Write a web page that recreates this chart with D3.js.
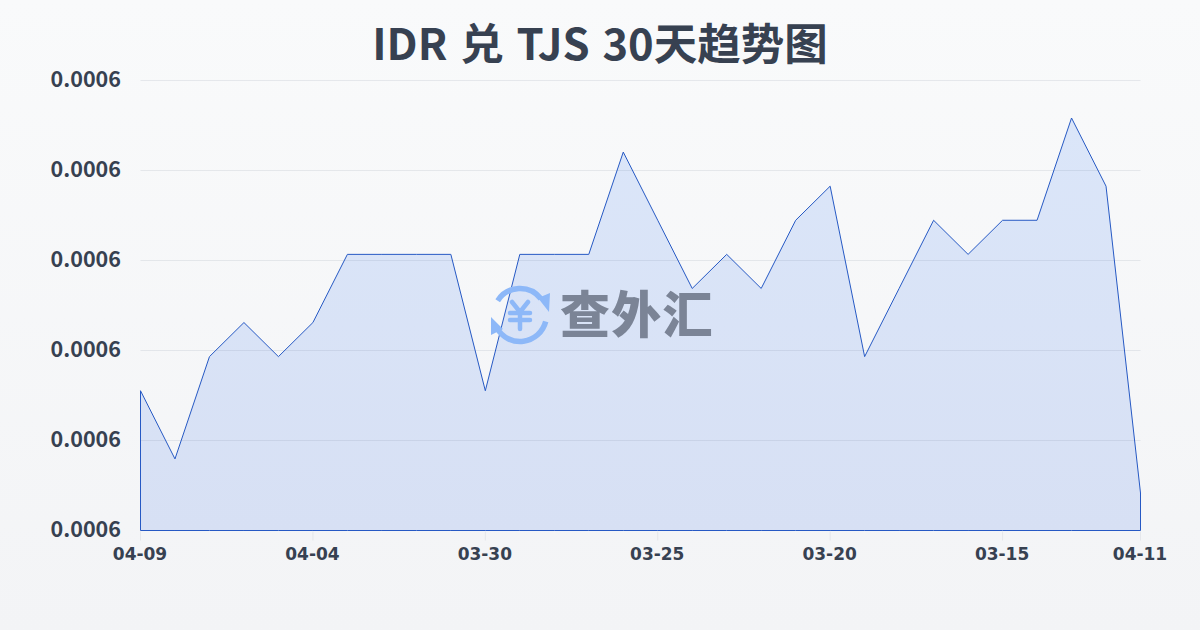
<!DOCTYPE html>
<html><head><meta charset="utf-8">
<script src="https://cdn.jsdelivr.net/npm/d3@7/dist/d3.min.js"></script>
<style>html,body{margin:0;padding:0;width:1200px;height:630px;overflow:hidden}svg{display:block}text{font-family:"Noto Sans CJK SC",sans-serif}</style>
</head><body><svg id="c" width="1200" height="630"></svg>
<script>
const titleText = "IDR 兑 TJS 30天趋势图";
const dates = ["04-09","04-08","04-07","04-06","04-05","04-04","04-03","04-02","04-01","03-31","03-30","03-29","03-28","03-27","03-26","03-25","03-24","03-23","03-22","03-21","03-20","03-19","03-18","03-17","03-16","03-15","03-14","03-13","03-12","04-11"];
const rates = [0.0006003,0.0006001,0.0006004,0.0006005,0.0006004,0.0006005,0.0006007,0.0006007,0.0006007,0.0006007,0.0006003,0.0006007,0.0006007,0.0006007,0.0006010,0.0006008,0.0006006,0.0006007,0.0006006,0.0006008,0.0006009,0.0006004,0.0006006,0.0006008,0.0006007,0.0006008,0.0006008,0.0006011,0.0006009,0.0006000];
const xTickLabels = ["04-09","04-04","03-30","03-25","03-20","03-15","04-11"];
const yDomain = [0.00059989,0.00060121];
const yTickCount = 6;
const watermark = "查外汇";

const svg = d3.select("#c");
const defs = svg.append("defs");
const bg = defs.append("linearGradient").attr("id","bg").attr("x1",0).attr("y1",0).attr("x2",0).attr("y2",1);
bg.append("stop").attr("offset",0).attr("stop-color","#f9fafb");
bg.append("stop").attr("offset",1).attr("stop-color","#f3f4f6");
const af = defs.append("linearGradient").attr("id","af").attr("x1",0).attr("y1",0).attr("x2",0).attr("y2",1);
af.append("stop").attr("offset",0).attr("stop-color","#dbe6f9");
af.append("stop").attr("offset",1).attr("stop-color","#d7e0f4");
svg.append("rect").attr("width",1200).attr("height",630).attr("fill","url(#bg)");

const x = d3.scaleLinear().domain([0,dates.length-1]).range([140,1140]);
const y = d3.scaleLinear().domain(yDomain).range([530,80]);
const yTicks = d3.range(yTickCount).map(i=>yDomain[0]+(yDomain[1]-yDomain[0])*i/(yTickCount-1));
const xTickIdx = xTickLabels.map((l,i)=> i===xTickLabels.length-1 ? dates.length-1 : dates.indexOf(l));

const plot = svg.append("g").attr("transform","translate(0.5,0.5)");
const area = d3.area().x((d,i)=>x(i)).y0(y(yDomain[0])).y1(d=>y(d));
plot.append("path").datum(rates).attr("d",d=>area(d)).attr("fill","url(#af)");

plot.append("g").selectAll("line").data(yTicks).join("line")
 .attr("x1",140).attr("x2",1140).attr("y1",d=>y(d)).attr("y2",d=>y(d)).attr("stroke","#64748b").attr("stroke-opacity",0.13);
plot.append("g").selectAll("line").data(xTickIdx).join("line")
 .attr("x1",d=>x(d)).attr("x2",d=>x(d)).attr("y1",531).attr("y2",540).attr("stroke","#e5e7eb");

// watermark
const wm = svg.append("g");
const logo = wm.append("g").attr("transform","translate(520,315)").attr("fill","none").attr("stroke","#8db8f8").attr("stroke-width",5.5);
logo.append("path").attr("d",d3.arc()({innerRadius:26.5,outerRadius:26.5,startAngle:-1.0,endAngle:0.91}));
logo.append("path").attr("d",d3.arc()({innerRadius:26.5,outerRadius:26.5,startAngle:1.82,endAngle:4.2})).attr("stroke-linecap","round");
logo.append("path").attr("d","M18 -17 L30 -22 L29 -3 Z M-29 2 L-17 14 L-29 20 Z").attr("fill","#8db8f8").attr("stroke","none");
logo.append("path").attr("d","M-8 -13 L0 -3 L8 -13 M0 -3 L0 14 M-10 -2 L10 -2 M-10 5 L10 5").attr("stroke-width",4.5).attr("stroke-linecap","round").attr("stroke-linejoin","round");
wm.append("text").attr("x",560).attr("y",333).attr("font-size",50).attr("font-weight",900).attr("letter-spacing",1.3).attr("fill","#7b8496").text(watermark);

plot.append("path").datum(rates).attr("d",d=>area(d)).attr("fill","none").attr("stroke","#2659c4").attr("stroke-width",1);

svg.append("text").attr("x",600).attr("y",60).attr("text-anchor","middle").attr("font-size",43.5).attr("word-spacing",3).attr("font-weight",700).attr("fill","#374151").text(titleText);
svg.append("g").selectAll("text").data(yTicks).join("text")
 .attr("x",121).attr("y",d=>y(d)+6.5).attr("text-anchor","end").attr("font-size",21.5).attr("font-weight",700).attr("fill","#374151").text(d=>d3.format(".4f")(d));
svg.append("g").selectAll("text").data(xTickIdx).join("text")
 .attr("x",d=>x(d)).attr("y",560).attr("text-anchor","middle").attr("font-size",17).attr("font-weight",700).style("font-family","'DejaVu Sans'").attr("fill","#374151").text((d,i)=>xTickLabels[i]);
</script></body></html>
